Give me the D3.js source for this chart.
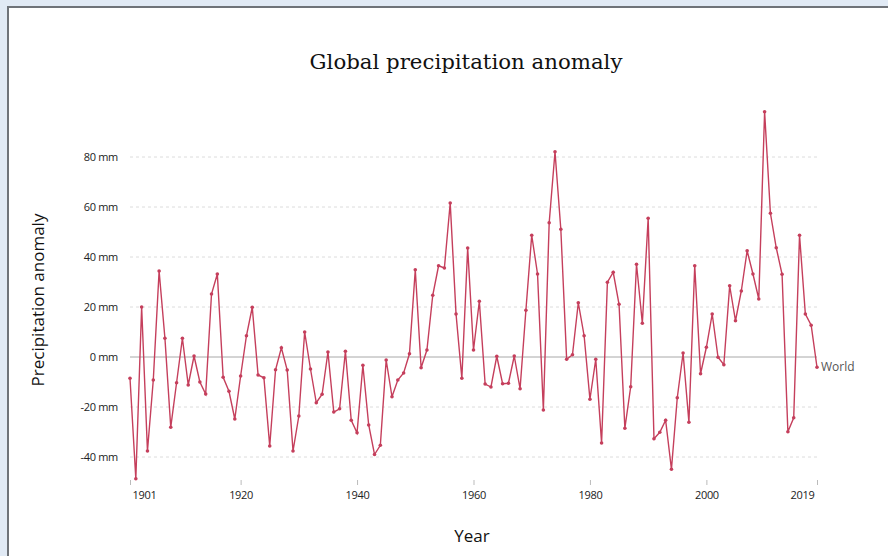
<!DOCTYPE html>
<html><head><meta charset="utf-8">
<script src="https://cdn.jsdelivr.net/npm/d3@7"></script>
<style>
html,body{margin:0;padding:0;background:#e1eaf5;}
svg{display:block;}
</style></head>
<body>
<svg id="chart" width="888" height="556"></svg>
<script>
const title = "Global precipitation anomaly";
const seriesName = "World";
const years = d3.range(1901, 2020);
const anomaly = [
 -8.5,-48.7,20,-37.6,-9.2,34.4,7.5,-28.1,-10.3,7.5,
 -11.2,0.4,-10,-14.8,25.2,33.2,-8.1,-13.7,-24.8,-7.6,
 8.5,19.9,-7.2,-8.3,-35.6,-5.1,3.7,-5.2,-37.6,-23.6,
 10,-4.8,-18.3,-14.9,2,-22,-20.7,2.3,-25.3,-30.3,
 -3.3,-27.2,-39,-35.3,-1.2,-15.9,-9.2,-6.4,1.3,34.9,
 -4.3,2.8,24.7,36.5,35.6,61.6,17.2,-8.5,43.6,2.8,
 22.3,-10.8,-12,0.3,-10.7,-10.5,0.4,-12.7,18.7,48.7,
 33.2,-21.2,53.7,82.1,51.1,-0.9,0.9,21.7,8.5,-16.9,
 -0.9,-34.4,29.9,33.9,21.1,-28.5,-11.9,37.1,13.5,55.5,
 -32.7,-30.1,-25.3,-44.9,-16.3,1.6,-26.1,36.5,-6.7,3.9,
 17.2,-0.1,-3.1,28.5,14.5,26.4,42.5,33.2,23.2,98.1,
 57.5,43.7,33.1,-29.9,-24.3,48.7,17.2,12.7,-4.1
];
const yTicks = [-40,-20,0,20,40,60,80];
const xTicks = [1901,1920,1940,1960,1980,2000,2019];
const data = years.map((y,i)=>({year:y,value:anomaly[i]}));

const svg = d3.select("#chart");
// panel
svg.append("rect").attr("x",8).attr("y",7).attr("width",900).attr("height",600)
  .attr("fill","#fff").attr("stroke","#6f7379").attr("stroke-width",2);

const x = d3.scaleLinear().domain([1901,2019]).range([130,817]);
const y = d3.scaleLinear().domain([0,80]).range([357,157]);

// title
const t = svg.append("text").attr("x",466).attr("y",69).attr("text-anchor","middle")
  .attr("font-family","DejaVu Serif, Georgia, serif").attr("font-size",22)
  .attr("fill","#111").text(title);
const tw = t.node().getComputedTextLength();
t.attr("font-size", 22*313/tw);

// grid
const g = svg.append("g");
g.selectAll("line.grid").data(yTicks.filter(d=>d!==0)).join("line")
  .attr("x1",x(1901)).attr("x2",x(2019)).attr("y1",d=>y(d)).attr("y2",d=>y(d))
  .attr("stroke","#dcdcdc").attr("stroke-dasharray","3,3").attr("stroke-width",1);
g.append("line").attr("x1",x(1901)).attr("x2",x(2019)).attr("y1",y(0)).attr("y2",y(0))
  .attr("stroke","#a8a8a8").attr("stroke-width",1);

// y axis labels
const yAxis = d3.axisLeft(y).tickValues(yTicks).tickSize(0).tickPadding(0)
  .tickFormat(d=>d+" mm");
svg.append("g").attr("transform","translate(118,0)").call(yAxis)
  .call(s=>s.select(".domain").remove())
  .selectAll("text").attr("font-family","Open Sans, sans-serif").attr("font-size",11)
  .attr("fill","#222").attr("dy","0.32em").style("letter-spacing","-0.3px");

// x axis
const xAxis = d3.axisBottom(x).tickValues(xTicks).tickSize(5).tickPadding(6).tickFormat(d3.format("d"));
const xg = svg.append("g").attr("transform","translate(0,480)").call(xAxis);
xg.select(".domain").remove();
xg.selectAll("line").attr("stroke","#bbb");
xg.selectAll("text").attr("font-family","Open Sans, sans-serif").attr("font-size",11)
  .attr("fill","#222").style("letter-spacing","-0.3px")
  .attr("text-anchor",d=>d===1901?"start":d===2019?"end":"middle")
  .attr("dx",d=>d===1901?"2":d===2019?"-3":"0");

// axis titles
svg.append("text").attr("transform","translate(44,300) rotate(-90)").attr("text-anchor","middle")
  .attr("font-family","Open Sans, sans-serif").attr("font-size",17).attr("fill","#111")
  .text("Precipitation anomaly");
svg.append("text").attr("x",472).attr("y",542).attr("text-anchor","middle")
  .attr("font-family","Open Sans, sans-serif").attr("font-size",17).attr("fill","#111")
  .text("Year");

// line
const color = "#c53f5c";
svg.append("path").datum(data)
  .attr("d",d3.line().x(d=>x(d.year)).y(d=>y(d.value)))
  .attr("fill","none").attr("stroke",color).attr("stroke-width",1.4);
svg.selectAll("circle.pt").data(data).join("circle").attr("class","pt")
  .attr("cx",d=>x(d.year)).attr("cy",d=>y(d.value)).attr("r",1.8).attr("fill",color);

// series label
const last = data[data.length-1];
svg.append("text").attr("x",x(last.year)+4).attr("y",y(last.value)).attr("dy","0.35em")
  .attr("font-family","Open Sans, sans-serif").attr("font-size",12).attr("fill","#555")
  .text(seriesName);
</script>
</body></html>
